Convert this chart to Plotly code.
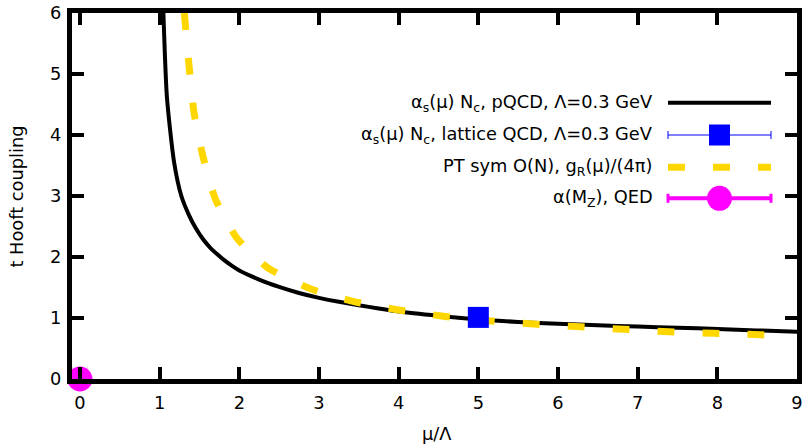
import plotly.graph_objects as go

# ---- data ----
pqcd_x = [1.03, 1.0909, 1.1818, 1.2727, 1.3636, 1.4545, 1.5454, 1.6364, 1.7273, 1.8182,
          1.9091, 2.0, 2.25, 2.5, 2.75, 3.0, 3.25, 3.5, 3.75, 4.0, 4.5, 5.0, 5.5, 6.0, 6.5,
          7.0, 7.5, 8.0, 8.5, 9.0]
pqcd_y = [6.7, 4.63, 3.55, 3.0, 2.7, 2.47, 2.29, 2.15, 2.04, 1.94,
          1.855, 1.78, 1.63, 1.51, 1.41, 1.33, 1.265, 1.21, 1.155, 1.105, 1.035, 0.975, 0.935, 0.905, 0.88,
          0.86, 0.84, 0.82, 0.797, 0.775]

ptsym_x = [1.31, 1.37, 1.43, 1.54, 1.70, 1.97, 2.35, 2.90, 3.44, 4.0, 4.56, 5.13, 5.70,
           6.28, 6.83, 7.39, 7.96, 8.54, 8.64]
ptsym_y = [6.0, 5.12, 4.38, 3.67, 2.95, 2.31, 1.83, 1.475, 1.27, 1.13, 1.03, 0.955, 0.90,
           0.855, 0.815, 0.775, 0.75, 0.726, 0.72]

lattice_x = [5.0]
lattice_y = [1.01]

qed_x = [0.0]
qed_y = [0.0]

x_ticks = [0, 1, 2, 3, 4, 5, 6, 7, 8, 9]
y_ticks = [0, 1, 2, 3, 4, 5, 6]

labels = [
    "α<sub>s</sub>(μ) N<sub>c</sub>, pQCD, Λ=0.3 GeV",
    "α<sub>s</sub>(μ) N<sub>c</sub>, lattice QCD, Λ=0.3 GeV",
    "PT sym O(N), g<sub>R</sub>(μ)/(4π)",
    "α(M<sub>Z</sub>), QED",
]
x_title = "μ/Λ"
y_title = "t Hooft coupling"

FONT = "DejaVu Sans"
FS = 17.8
L, R, T, B = 72, 797, 13, 379

fig = go.Figure()

fig.add_trace(go.Scatter(x=pqcd_x, y=pqcd_y, mode="lines",
                         line=dict(color="black", width=4, shape="spline", smoothing=0.6),
                         showlegend=False))
fig.add_trace(go.Scatter(x=ptsym_x, y=ptsym_y, mode="lines",
                         line=dict(color="#FFD700", width=7, dash="17px,28px", shape="spline", smoothing=0.6),
                         showlegend=False))
fig.add_trace(go.Scatter(x=lattice_x, y=lattice_y, mode="markers",
                         marker=dict(symbol="square", size=21, color="#0000FF"),
                         cliponaxis=False, showlegend=False))
fig.add_trace(go.Scatter(x=qed_x, y=qed_y, mode="markers",
                         marker=dict(symbol="circle", size=25, color="#FF00FF"),
                         cliponaxis=False, showlegend=False))

# ---- legend (pixel-coordinate overlay axes) ----
rows = [102.7, 135, 167.3, 198.3]
sx0, sx1, sxm = 668, 771, 719.5
fig.add_trace(go.Scatter(x=[sx0, sx1], y=[rows[0], rows[0]], mode="lines", xaxis="x2", yaxis="y2",
                         line=dict(color="black", width=4), showlegend=False))
fig.add_trace(go.Scatter(x=[sx0, sx1], y=[rows[1], rows[1]], mode="lines", xaxis="x2", yaxis="y2",
                         line=dict(color="#0000FF", width=1), showlegend=False))
for cx in (sx0, sx1):
    fig.add_trace(go.Scatter(x=[cx, cx], y=[rows[1] - 4, rows[1] + 4], mode="lines", xaxis="x2", yaxis="y2",
                             line=dict(color="#0000FF", width=1), showlegend=False))
fig.add_trace(go.Scatter(x=[sxm], y=[rows[1]], mode="markers", xaxis="x2", yaxis="y2",
                         marker=dict(symbol="square", size=21, color="#0000FF"), showlegend=False))
fig.add_trace(go.Scatter(x=[sx0, sx1], y=[rows[2], rows[2]], mode="lines", xaxis="x2", yaxis="y2",
                         line=dict(color="#FFD700", width=7, dash="17px,28px"), showlegend=False))
fig.add_trace(go.Scatter(x=[sx0, sx1], y=[rows[3], rows[3]], mode="lines", xaxis="x2", yaxis="y2",
                         line=dict(color="#FF00FF", width=4), showlegend=False))
for cx in (sx0, sx1):
    fig.add_trace(go.Scatter(x=[cx, cx], y=[rows[3] - 4.5, rows[3] + 4.5], mode="lines", xaxis="x2", yaxis="y2",
                             line=dict(color="#FF00FF", width=3), showlegend=False))
fig.add_trace(go.Scatter(x=[sxm], y=[rows[3]], mode="markers", xaxis="x2", yaxis="y2",
                         marker=dict(symbol="circle", size=25, color="#FF00FF"), showlegend=False))

for lab, ry in zip(labels, rows):
    fig.add_annotation(x=655, y=ry, xref="x2", yref="y2", text=lab, showarrow=False,
                       xanchor="right", yanchor="middle",
                       font=dict(family=FONT, size=FS, color="black"))

# axis titles as annotations (pixel positions converted to paper)
fig.add_annotation(x=(437 - L) / (R - L), y=(B - 433) / (B - T), xref="paper", yref="paper",
                   text=x_title, showarrow=False, xanchor="center", yanchor="middle",
                   font=dict(family=FONT, size=FS, color="black"))
fig.add_annotation(x=(15.5 - L) / (R - L), y=(B - 197) / (B - T), xref="paper", yref="paper",
                   text=y_title, showarrow=False, xanchor="center", yanchor="middle", textangle=-90,
                   font=dict(family=FONT, size=FS, color="black"))

axis_common = dict(showgrid=False, zeroline=False, showline=True, linecolor="black", linewidth=5,
                   ticks="inside", ticklen=12, tickwidth=4, tickcolor="black", mirror="ticks",
                   automargin=False,
                   tickfont=dict(family=FONT, size=FS, color="black"))

fig.update_layout(
    width=806, height=444,
    margin=dict(l=L, r=806 - R, t=T, b=444 - B),
    paper_bgcolor="white", plot_bgcolor="white",
    xaxis=dict(range=[-0.1, 9], tickvals=x_ticks, ticktext=[str(v) for v in x_ticks],
               ticklabelstandoff=4, **axis_common),
    yaxis=dict(range=[0, 6], tickvals=y_ticks, ticktext=[str(v) for v in y_ticks],
               ticklabelstandoff=2, **axis_common),
    xaxis2=dict(range=[L, R], overlaying="x", visible=False, fixedrange=True),
    yaxis2=dict(range=[B, T], overlaying="y", visible=False, fixedrange=True),
)

fig.write_html("out.html")
